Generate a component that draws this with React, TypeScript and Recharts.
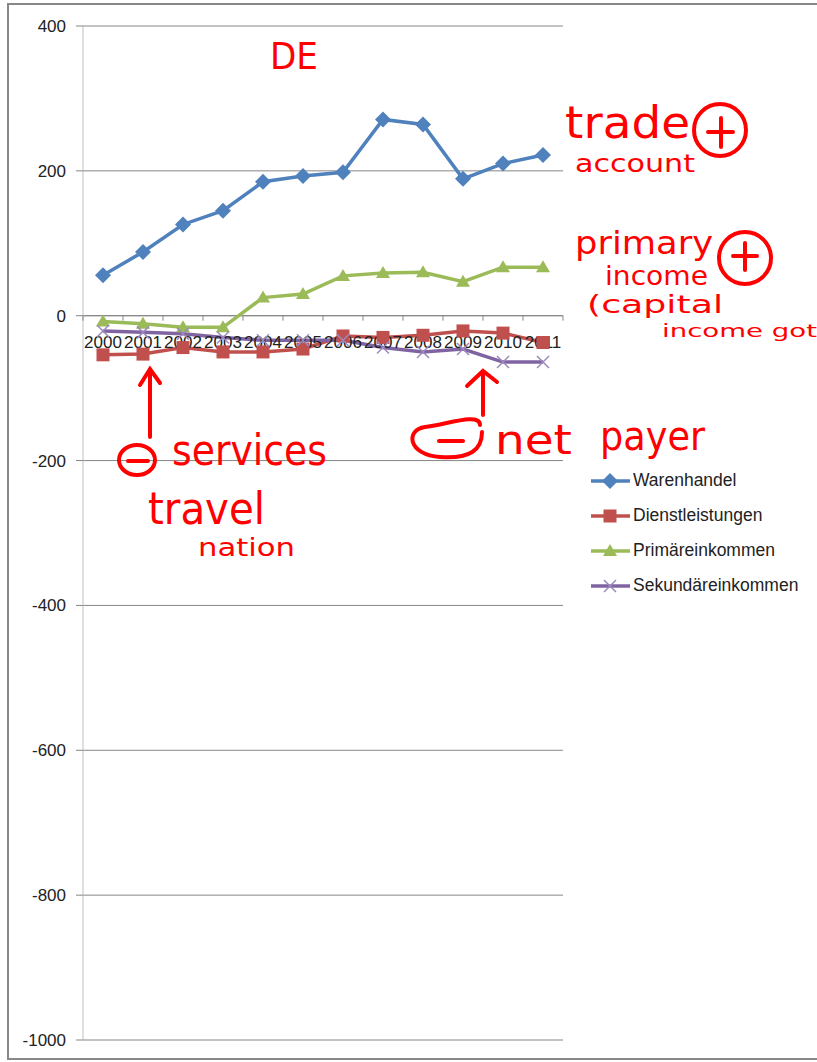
import React from "react";
import {
  LineChart,
  Line,
  XAxis,
  YAxis,
  CartesianGrid,
  ReferenceLine,
  ReferenceDot,
  Legend,
} from "recharts";

const years = ["2000", "2001", "2002", "2003", "2004", "2005", "2006", "2007", "2008", "2009", "2010", "2011"];
const warenhandel = [56, 88, 126, 145, 185, 193, 198, 271, 264, 189, 210, 222];
const dienstleistungen = [-54, -53, -44, -50, -50, -46, -28, -30, -27, -21, -24, -37];
const primaereinkommen = [-8, -11, -16, -16, 25, 30, 55, 59, 60, 47, 67, 67];
const sekundaereinkommen = [-21, -23, -25, -30, -34, -34, -34, -44, -50, -46, -64, -64];
const yTicks = [-1000, -800, -600, -400, -200, 0, 200, 400];

const W = 817;
const H = 1062;
const PLOT_W = 480;
const BAND = PLOT_W / years.length;
const FONT = "'Liberation Sans', Arial, sans-serif";
const RED = "#ff0000";

const data = years.map((y, i) => ({
  year: y,
  Warenhandel: warenhandel[i],
  Dienstleistungen: dienstleistungen[i],
  "Primäreinkommen": primaereinkommen[i],
  "Sekundäreinkommen": sekundaereinkommen[i],
}));

type MarkerKind = "diamond" | "square" | "triangle" | "cross";

function Marker({ kind, cx, cy, color }: { kind: MarkerKind; cx: number; cy: number; color: string }) {
  if (kind === "diamond")
    return <polygon points={`${cx},${cy - 8} ${cx + 8},${cy} ${cx},${cy + 8} ${cx - 8},${cy}`} fill={color} />;
  if (kind === "square") return <rect x={cx - 6.5} y={cy - 6.5} width={13} height={13} fill={color} />;
  if (kind === "triangle")
    return <polygon points={`${cx},${cy - 7} ${cx + 7},${cy + 5} ${cx - 7},${cy + 5}`} fill={color} />;
  return (
    <g stroke="#9c87c0" strokeWidth={1.5}>
      <line x1={cx - 6} y1={cy - 6} x2={cx + 6} y2={cy + 6} />
      <line x1={cx - 6} y1={cy + 6} x2={cx + 6} y2={cy - 6} />
    </g>
  );
}

const SERIES: { key: string; color: string; marker: MarkerKind }[] = [
  { key: "Warenhandel", color: "#4F81BD", marker: "diamond" },
  { key: "Dienstleistungen", color: "#C0504D", marker: "square" },
  { key: "Primäreinkommen", color: "#9BBB59", marker: "triangle" },
  { key: "Sekundäreinkommen", color: "#8064A2", marker: "cross" },
];

function renderDot(kind: MarkerKind, color: string) {
  return (p: any) => <Marker key={`${kind}-${p.index}`} kind={kind} cx={p.cx} cy={p.cy} color={color} />;
}

function YearLabel(p: any) {
  const { cx, cy, year, last } = p;
  return (
    <g>
      <line x1={cx - BAND / 2} y1={cy} x2={cx - BAND / 2} y2={cy + 5} stroke="#868686" />
      {last && <line x1={cx + BAND / 2} y1={cy} x2={cx + BAND / 2} y2={cy + 5} stroke="#868686" />}
      <text x={cx} y={cy + 32} textAnchor="middle" fontSize={17} fontFamily={FONT} fill="#222">
        {year}
      </text>
    </g>
  );
}

function LegendContent() {
  return (
    <div style={{ fontFamily: FONT, fontSize: 17.5, color: "#222" }}>
      {SERIES.map((s) => (
        <div key={s.key} style={{ display: "flex", alignItems: "center", height: 35 }}>
          <svg width={43} height={20}>
            <line x1={1} y1={10} x2={40} y2={10} stroke={s.color} strokeWidth={3.5} />
            <Marker kind={s.marker} cx={20} cy={10} color={s.color} />
          </svg>
          <span>{s.key}</span>
        </div>
      ))}
    </div>
  );
}

// handwritten red notes drawn over the chart
function Notes() {
  const t = { fill: RED, fontFamily: "'DejaVu Sans', sans-serif", lengthAdjust: "spacingAndGlyphs" as const };
  const s = { stroke: RED, strokeWidth: 4, fill: "none", strokeLinecap: "round" as const };
  return (
    <svg width={W} height={H} style={{ position: "absolute", left: 0, top: 0, pointerEvents: "none" }}>
      <text x={270} y={69} fontSize={38} textLength={48} {...t}>DE</text>
      <text x={565} y={138} fontSize={44} textLength={125} {...t}>trade</text>
      <text x={575} y={172} fontSize={24} textLength={120} {...t}>account</text>
      <circle cx={720} cy={130} r={26} {...s} />
      <path d="M708 132 H733 M721 118 V147" {...s} />
      <text x={575} y={254} fontSize={32} textLength={138} {...t}>primary</text>
      <text x={605} y={285} fontSize={26} textLength={103} {...t}>income</text>
      <circle cx={745} cy={258} r={26} {...s} />
      <path d="M733 256 H757 M745 243 V270" {...s} />
      <text x={587} y={313} fontSize={24} textLength={136} {...t}>(capital</text>
      <text x={662} y={337} fontSize={18} textLength={155} {...t}>income got</text>
      <path d="M150 437 V369 M140 385 L150 369 L160 383" {...s} />
      <ellipse cx={137} cy={460} rx={18} ry={15} {...s} />
      <path d="M128 461 H148" {...s} />
      <text x={172} y={465} fontSize={42} textLength={155} {...t}>services</text>
      <text x={148} y={524} fontSize={44} textLength={117} {...t}>travel</text>
      <text x={198} y={556} fontSize={24} textLength={97} {...t}>nation</text>
      <path d="M483 415 V371 M467 386 L483 371 L497 382" {...s} />
      <path d="M480 425 C480 412 445 425 425 427 C405 430 408 455 440 457 C470 459 482 450 482 432" {...s} />
      <path d="M439 441 H463" {...s} />
      <text x={495} y={454} fontSize={40} textLength={77} {...t}>net</text>
      <text x={600} y={450} fontSize={40} textLength={105} {...t}>payer</text>
    </svg>
  );
}

export default function App() {
  return (
    <div style={{ position: "absolute", left: 0, top: 0, width: W, height: H, background: "#fff" }}>
      <div
        style={{
          position: "absolute",
          left: 7,
          top: 3,
          width: W,
          height: 1057,
          borderLeft: "2px solid #888",
          borderTop: "2px solid #888",
          borderBottom: "2px solid #888",
          boxSizing: "border-box",
        }}
      />
      <LineChart
        width={W}
        height={H}
        data={data}
        margin={{ top: 26, right: 254, bottom: 22, left: 23 }}
        style={{ position: "absolute", left: 0, top: 0 }}
      >
        <CartesianGrid vertical={false} stroke="#868686" />
        <XAxis dataKey="year" hide padding={{ left: BAND / 2, right: BAND / 2 }} />
        <YAxis
          domain={[-1000, 400]}
          ticks={yTicks}
          width={60}
          tickSize={7}
          tickMargin={10}
          axisLine={{ stroke: "#BFBFBF" }}
          tickLine={{ stroke: "#868686" }}
          tick={{ fontSize: 17, fontFamily: FONT, fill: "#222" }}
          interval={0}
        />
        <ReferenceLine y={0} stroke="#868686" />
        {years.map((y, i) => (
          <ReferenceDot
            key={y}
            x={y}
            y={0}
            r={0}
            ifOverflow="visible"
            shape={(p: any) => <YearLabel {...p} year={y} last={i === years.length - 1} />}
          />
        ))}
        {SERIES.map((s) => (
          <Line
            key={s.key}
            type="linear"
            dataKey={s.key}
            stroke={s.color}
            strokeWidth={3.5}
            dot={renderDot(s.marker, s.color)}
            activeDot={false}
            isAnimationActive={false}
          />
        ))}
        <Legend
          layout="vertical"
          align="center"
          verticalAlign="middle"
          content={<LegendContent />}
          wrapperStyle={{ left: 590, top: 463, width: 225 }}
        />
      </LineChart>
      <Notes />
    </div>
  );
}
